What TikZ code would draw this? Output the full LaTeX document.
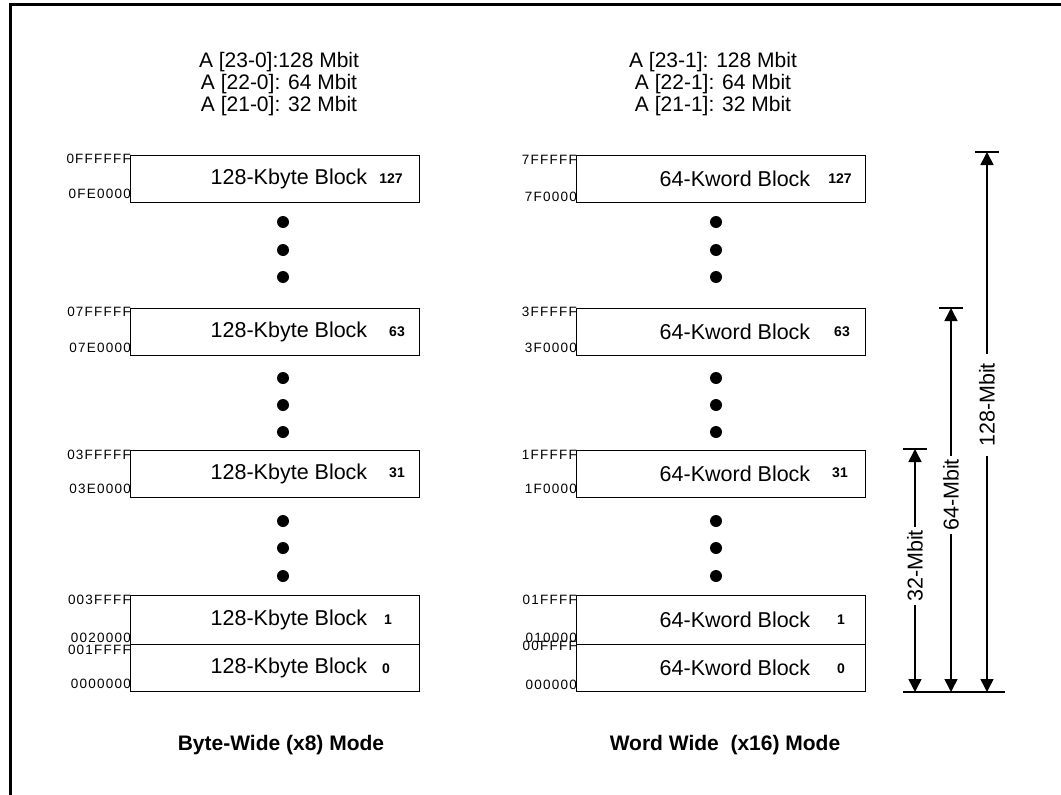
\documentclass[tikz,border=0pt]{standalone}
\usepackage{fontspec}
\setmainfont{Liberation Sans}
\usetikzlibrary{arrows.meta}
\begin{document}
\begin{tikzpicture}[x=1pt,y=-1pt,
  blk/.style={draw, line width=1.2pt, minimum width=289pt, minimum height=#1, inner sep=0pt, anchor=north west},
  blk/.default=47pt,
  btxt/.style={font=\fontsize{21.5}{24}\selectfont, inner sep=0pt},
  bnum/.style={font=\fontsize{14}{16}\selectfont\bfseries, inner sep=0pt},
  addr/.style={font=\fontsize{13.5}{15}\selectfont\addfontfeature{LetterSpace=9}, inner sep=0pt, anchor=east},
  hdr/.style={font=\fontsize{21}{22}\selectfont, inner sep=0pt, align=center},
  mode/.style={font=\fontsize{21}{24}\selectfont\bfseries, inner sep=0pt},
  dotn/.style={circle, fill=black, minimum size=12pt, inner sep=0pt},
  dim/.style={line width=1.6pt, {Triangle[length=13pt,width=13pt]}-{Triangle[length=13pt,width=13pt]}},
  tick/.style={line width=1.6pt},
  dimlbl/.style={font=\fontsize{21.5}{24}\selectfont, fill=white, inner sep=3pt, rotate=90}
]
\useasboundingbox (0,0) rectangle (1061,795);
% frame (top and left edges)
\draw[line width=3pt] (1061,4) -- (10,4) -- (10,795);

% headings
\node[hdr] (hl) at (279,84) {A [23-0]:128 Mbit\\A [22-0]: 64 Mbit\\A [21-0]: 32 Mbit};
\node[hdr] (hr) at (713,84) {A [23-1]: 128 Mbit\\A [22-1]: 64 Mbit\\A [21-1]: 32 Mbit};

% ---------- left column ----------
\node[blk] (L127) at (130,155) {};
\node[blk] (L63) at (130,308) {};
\node[blk] (L31) at (130,450) {};
\node[blk=49pt] (L1) at (130,595) {};
\node[blk] (L0) at (130,644) {};
\foreach \n/\y in {L127/178.5,L63/331.5,L31/473.5,L1/619.5,L0/667.5}{
  \node[btxt] (\n t) at (289,\y) {128-Kbyte Block};
}
\node[bnum] (L127n) at (391,179) {127};
\node[bnum] (L63n) at (397,332) {63};
\node[bnum] (L31n) at (397,473) {31};
\node[bnum] (L1n) at (388,620) {1};
\node[bnum] (L0n) at (386,669) {0};
\node[addr] (a1) at (131,159) {0FFFFFF};
\node[addr] (a2) at (131,194) {0FE0000};
\node[addr] (a3) at (131,312) {07FFFFF};
\node[addr] (a4) at (131,348) {07E0000};
\node[addr] (a5) at (131,455) {03FFFFF};
\node[addr] (a6) at (131,489) {03E0000};
\node[addr] (a7) at (131,600) {003FFFF};
\node[addr] (a8) at (131,638) {0020000};
\node[addr] (a9) at (131,650) {001FFFF};
\node[addr] (a10) at (131,684) {0000000};
\foreach \i/\y in {1/222,2/250,3/277,4/378,5/405,6/432,7/521,8/548,9/576}{
  \node[dotn] (ld\i) at (283,\y) {};
}

% ---------- right column ----------
\node[blk] (R127) at (576,155) {};
\node[blk] (R63) at (576,308) {};
\node[blk] (R31) at (576,450) {};
\node[blk=49pt] (R1) at (576,595) {};
\node[blk] (R0) at (576,644) {};
\foreach \n/\y in {R127/178.5,R63/331.5,R31/473.5,R1/619.5,R0/667.5}{
  \node[btxt] (\n t) at (735,\y) {64-Kword Block};
}
\node[bnum] (R127n) at (840,179) {127};
\node[bnum] (R63n) at (842,332) {63};
\node[bnum] (R31n) at (840,473) {31};
\node[bnum] (R1n) at (841,620) {1};
\node[bnum] (R0n) at (841,669) {0};
\node[addr] (b1) at (577,160) {7FFFFF};
\node[addr] (b2) at (577,197) {7F0000};
\node[addr] (b3) at (577,312) {3FFFFF};
\node[addr] (b4) at (577,348) {3F0000};
\node[addr] (b5) at (577,455) {1FFFFF};
\node[addr] (b6) at (577,489) {1F0000};
\node[addr] (b7) at (577,600) {01FFFF};
\node[addr] (b8) at (577,638) {010000};
\node[addr] (b9) at (577,646) {00FFFF};
\node[addr] (b10) at (577,685) {000000};
\foreach \i/\y in {1/222,2/250,3/277,4/378,5/405,6/432,7/521,8/548,9/576}{
  \node[dotn] (rd\i) at (716,\y) {};
}

% ---------- dimension arrows ----------
\coordinate (t32a) at (903,449); \coordinate (t32b) at (927,449);
\coordinate (t64a) at (939,308); \coordinate (t64b) at (963,308);
\coordinate (t128a) at (975,152); \coordinate (t128b) at (999,152);
\coordinate (bla) at (903,692); \coordinate (blb) at (1005,692);
\coordinate (p32) at (915,449); \coordinate (q32) at (915,692);
\coordinate (p64) at (951,308); \coordinate (q64) at (951,692);
\coordinate (p128) at (987,152); \coordinate (q128) at (987,692);
\draw[tick] (t32a) -- (t32b);
\draw[tick] (t64a) -- (t64b);
\draw[tick] (t128a) -- (t128b);
\draw[tick] (bla) -- (blb);
\draw[dim] (p32) -- (q32);
\draw[dim] (p64) -- (q64);
\draw[dim] (p128) -- (q128);
\node[dimlbl] (l32) at (915,566) {32-Mbit};
\node[dimlbl] (l64) at (951,495) {64-Mbit};
\node[dimlbl, inner xsep=9pt] (l128) at (987,405) {128-Mbit};

% ---------- mode captions ----------
\node[mode] (m1) at (281,745) {Byte-Wide (x8) Mode};
\node[mode] (m2) at (725,745) {Word Wide\ \ (x16) Mode};
\end{tikzpicture}
\end{document}
